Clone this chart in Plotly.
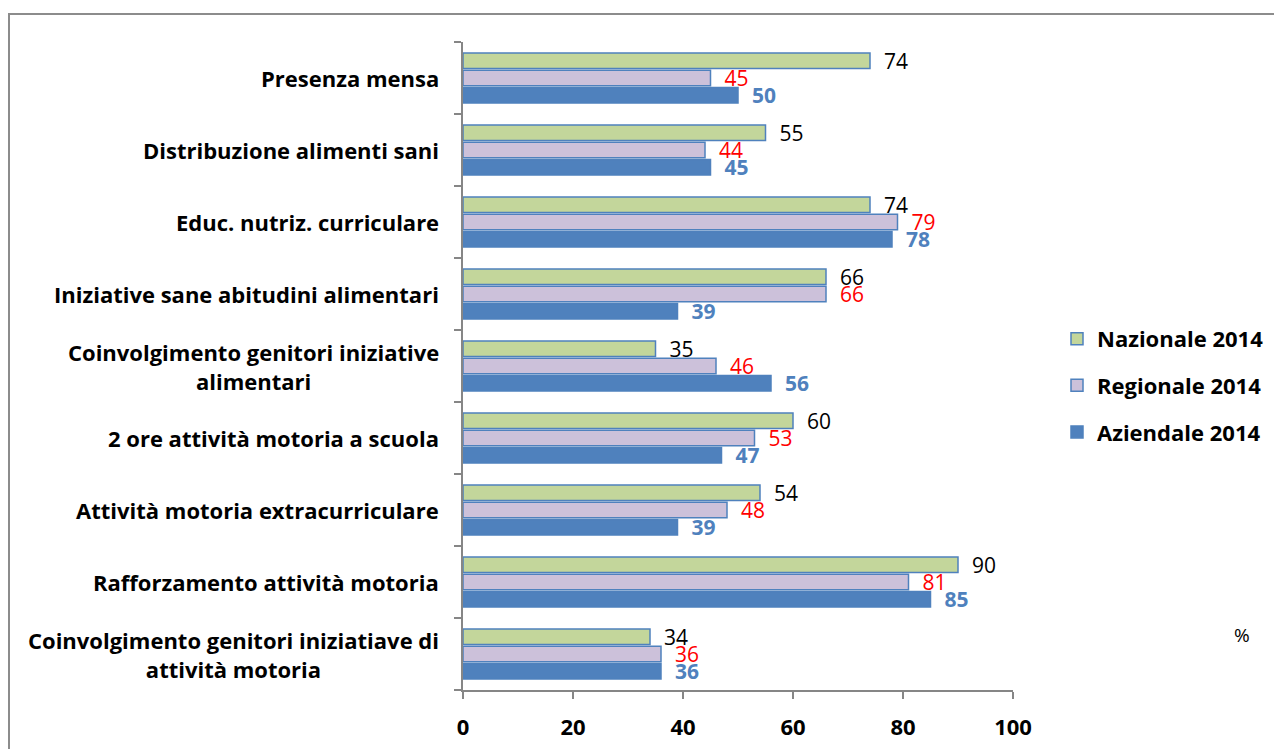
import plotly.graph_objects as go

# data (top to bottom, as read on the chart)
categories = [
    "Presenza mensa",
    "Distribuzione alimenti sani",
    "Educ. nutriz. curriculare",
    "Iniziative sane abitudini alimentari",
    "Coinvolgimento genitori iniziative<br>alimentari",
    "2 ore attività motoria a scuola",
    "Attività motoria extracurriculare",
    "Rafforzamento attività motoria",
    "Coinvolgimento genitori iniziatiave di<br>attività motoria",
]
nazionale_2014 = [74, 55, 74, 66, 35, 60, 54, 90, 34]
regionale_2014 = [45, 44, 79, 66, 46, 53, 48, 81, 36]
aziendale_2014 = [50, 45, 78, 39, 56, 47, 39, 85, 36]
x_ticks = [0, 20, 40, 60, 80, 100]

# variables
page_offset = 8  # default body margin of the html page
size_plot = [1282 - page_offset, 749 - page_offset]  # width, height
margin = dict(l=463 - page_offset, r=269, t=42 - page_offset, b=59)
font_family = "Open Sans"
color_line = "#4F81BD"
color_axis = "#868686"
pad = "\u00a0\u00a0"  # push labels away from bar end

# plotly draws the first trace at the bottom of a group -> reverse order
cats = categories[::-1]
series = [
    ("Aziendale 2014", aziendale_2014, "#4F81BD", 3, dict(color="#4F81BD", size=21, weight="bold")),
    ("Regionale 2014", regionale_2014, "#CCC1DA", 2, dict(color="#FF0000", size=21)),
    ("Nazionale 2014", nazionale_2014, "#C3D69B", 1, dict(color="#000000", size=21)),
]

fig = go.Figure()
for name, values, fill, rank, tfont in series:
    fig.add_trace(go.Bar(
        name=name,
        legendgroup=name,
        legendrank=rank,
        y=cats,
        x=values[::-1],
        orientation="h",
        marker=dict(color=fill, line=dict(color=color_line, width=1.5)),
        text=values[::-1],
        texttemplate=pad + "%{x}",
        textposition="outside",
        constraintext="none",
        cliponaxis=False,
        textfont=dict(family=font_family, **tfont),
        hoverinfo="x+name",
    ))

# category labels as annotations so the two-line ones are centred
for c in cats:
    fig.add_annotation(
        x=0, xref="paper", y=c, yref="y",
        text=c, showarrow=False,
        xanchor="right", xshift=-22, align="center",
        font=dict(family=font_family, size=22, color="#000000", weight="bold"),
    )

fig.add_annotation(
    x=1.416, xref="paper", y=0.085, yref="paper",
    xanchor="center", yanchor="middle",
    text="%", showarrow=False,
    font=dict(family=font_family, size=19, color="#000000"),
)

# grey frame round the chart (page pixels converted to paper coords)
pw = size_plot[0] - margin["l"] - margin["r"]
ph = size_plot[1] - margin["t"] - margin["b"]
frame = [9, 14, 1300, 770]  # left, top, right, bottom in page pixels
fig.add_shape(
    type="rect", xref="paper", yref="paper",
    x0=(frame[0] - page_offset - margin["l"]) / pw,
    x1=(frame[2] - page_offset - margin["l"]) / pw,
    y0=(size_plot[1] - margin["b"] - (frame[3] - page_offset)) / ph,
    y1=(size_plot[1] - margin["b"] - (frame[1] - page_offset)) / ph,
    line=dict(color="#8C8C8C", width=2),
)

fig.update_layout(
    width=size_plot[0],
    height=size_plot[1],
    margin=margin,
    barmode="group",
    bargap=0.28,
    bargroupgap=0.1,
    plot_bgcolor="white",
    paper_bgcolor="white",
    font=dict(family=font_family, color="#000000"),
    legend=dict(
        x=1.08, y=0.47, xanchor="left", yanchor="middle",
        traceorder="grouped",
        tracegroupgap=15,
        font=dict(family=font_family, size=22, color="#000000", weight="bold"),
    ),
    showlegend=True,
)

fig.update_xaxes(
    range=[0, 100],
    tickvals=x_ticks,
    automargin=False,
    showgrid=False,
    zeroline=False,
    showline=True,
    linecolor=color_axis,
    linewidth=2,
    ticks="outside",
    ticklen=7,
    tickwidth=2,
    tickcolor=color_axis,
    ticklabelstandoff=10,
    tickfont=dict(family=font_family, size=22, color="#000000", weight="bold"),
)
fig.update_yaxes(
    automargin=False,
    showgrid=False,
    zeroline=False,
    showline=True,
    linecolor=color_axis,
    linewidth=2,
    ticks="outside",
    tickson="boundaries",
    ticklen=7,
    tickwidth=2,
    tickcolor=color_axis,
    showticklabels=False,
)

fig.write_html("out.html")
